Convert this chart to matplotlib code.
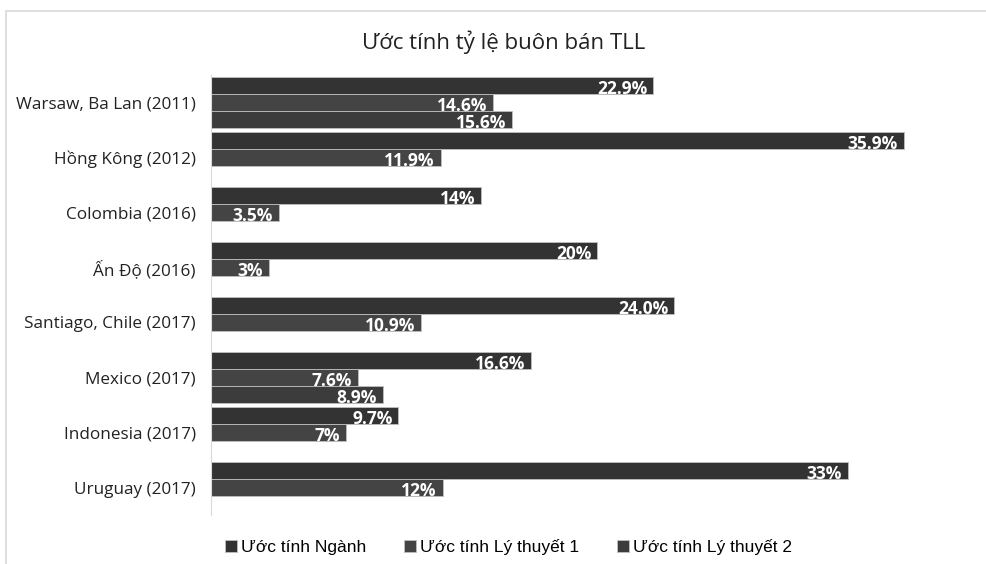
import numpy as np
import matplotlib.pyplot as plt
from matplotlib.patches import Rectangle

# Dữ liệu
categories = ["Warsaw, Ba Lan (2011)", "Hồng Kông (2012)", "Colombia (2016)", "Ấn Độ (2016)",
              "Santiago, Chile (2017)", "Mexico (2017)", "Indonesia (2017)", "Uruguay (2017)"]
series_names = ["Ước tính Ngành", "Ước tính Lý thuyết 1", "Ước tính Lý thuyết 2"]
nganh = [22.9, 35.9, 14, 20, 24.0, 16.6, 9.7, 33]
lythuyet1 = [14.6, 11.9, 3.5, 3, 10.9, 7.6, 7, 12]
lythuyet2 = [15.6, np.nan, np.nan, np.nan, np.nan, 8.9, np.nan, np.nan]
nganh_lbl = ["22.9%", "35.9%", "14%", "20%", "24.0%", "16.6%", "9.7%", "33%"]
lythuyet1_lbl = ["14.6%", "11.9%", "3.5%", "3%", "10.9%", "7.6%", "7%", "12%"]
lythuyet2_lbl = ["15.6%", "", "", "", "", "8.9%", "", ""]

colors = ["#333333", "#444444", "#3c3c3c"]

fig = plt.figure(figsize=(9.87, 5.64), dpi=100)
# khung viền ngoài
fig.patches.append(Rectangle((6 / 987, -0.05), 1.0, 1 - 11 / 564 + 0.05, transform=fig.transFigure,
                             fill=False, edgecolor="#d9d9d9", linewidth=1.2))
ax = fig.add_axes([211 / 987, 1 - 515 / 564, (925 - 211) / 987, (515 - 75) / 564])

y = np.arange(len(categories))
h = 0.31
data = [(nganh, nganh_lbl), (lythuyet1, lythuyet1_lbl), (lythuyet2, lythuyet2_lbl)]
for i, (vals, lbls) in enumerate(data):
    pos = y + (i - 1) * h
    ax.barh(pos, vals, height=h, color=colors[i], edgecolor="#bfbfbf", linewidth=0.6,
            label=series_names[i])
    for p, v, t in zip(pos, vals, lbls):
        if t:
            ax.text(v - 0.3, p + 0.06, t, ha="right", va="center", color="white",
                    fontsize=12.5, fontweight="bold", family="Open Sans")

ax.set_xlim(0, 37)
ax.set_ylim(len(categories) - 0.5, -0.5)
ax.set_yticks(y)
ax.set_yticklabels(categories, fontsize=12.3, family="Open Sans", color="#222222")
ax.tick_params(axis="y", length=0, pad=11)
ax.set_xticks([])
for s in ["top", "right", "bottom"]:
    ax.spines[s].set_visible(False)
ax.spines["left"].set_color("#d9d9d9")

fig.text(0.51, 1 - 42 / 564, "Ước tính tỷ lệ buôn bán TLL", ha="center", va="center",
         fontsize=16, family="Open Sans", color="#222222")

fig.legend(loc="center", bbox_to_anchor=(0.515, 1 - 547 / 564), ncol=3, frameon=False,
           prop={"family": "Liberation Sans", "size": 12.5}, handlelength=0.7, handleheight=0.7,
           handletextpad=0.2, columnspacing=2.2)

fig.savefig("out.png", dpi=100)
